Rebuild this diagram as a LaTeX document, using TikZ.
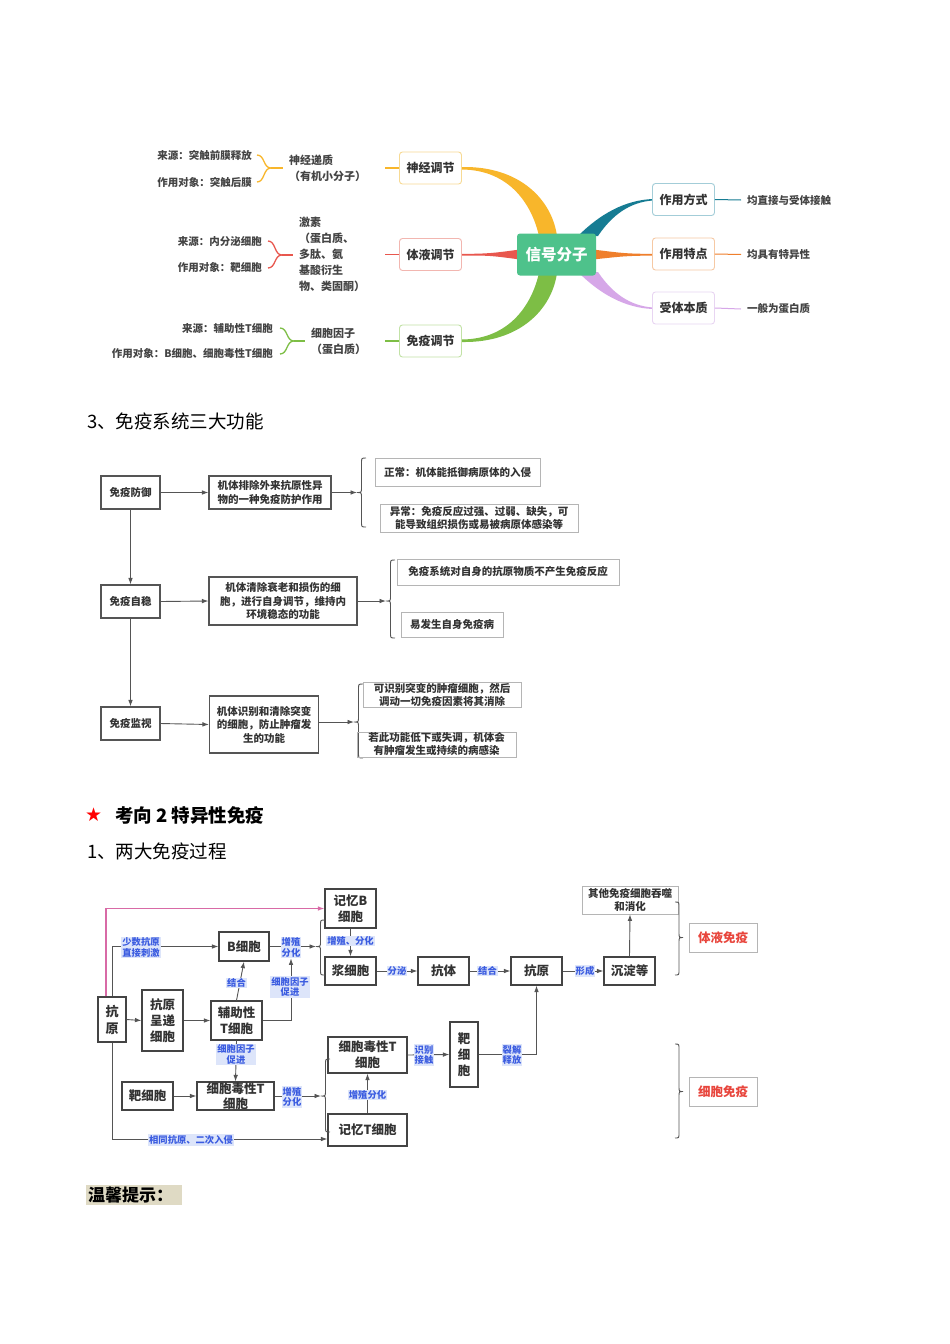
\documentclass[tikz,border=0pt]{standalone}
\usepackage{fontspec}
\setmainfont{Noto Sans CJK SC}
\newfontfamily\djv{DejaVu Sans}
\usetikzlibrary{arrows.meta}
\definecolor{txt}{HTML}{333333}
\definecolor{txtg}{HTML}{444444}
\definecolor{cgreen}{HTML}{4EC28B}
\definecolor{cyel}{HTML}{F8B62B}
\definecolor{cred}{HTML}{E8574E}
\definecolor{cgrn}{HTML}{7DBE45}
\definecolor{cteal}{HTML}{167C93}
\definecolor{corg}{HTML}{EF7F2C}
\definecolor{cpur}{HTML}{D6A7E8}
\definecolor{byel}{HTML}{F7DA94}
\definecolor{bred}{HTML}{F2B6B0}
\definecolor{bgrn}{HTML}{C2E2A6}
\definecolor{bteal}{HTML}{A3CDD8}
\definecolor{borg}{HTML}{F6C9A4}
\definecolor{bpur}{HTML}{E8D5F2}
\definecolor{bda}{HTML}{555555}
\definecolor{bdb}{HTML}{B5B5B5}
\definecolor{bdc}{HTML}{444444}
\definecolor{arc}{HTML}{555555}
\definecolor{lblbg}{HTML}{DDE5FA}
\definecolor{lbltx}{HTML}{3A5BE0}
\definecolor{cpink}{HTML}{D86AA6}
\definecolor{redtx}{HTML}{E8453C}
\definecolor{tipbg}{HTML}{DFDAC4}
\newcommand{\mybrl}[4]{%
\draw[brc] ({#1+9},#2) .. controls ({#1+4.5},#2) .. ({#1+4.5},{#2+5}) -- ({#1+4.5},{#3-5}) .. controls ({#1+4.5},#3) .. (#1,#3) .. controls ({#1+4.5},#3) .. ({#1+4.5},{#3+5}) -- ({#1+4.5},{#4-5}) .. controls ({#1+4.5},#4) .. ({#1+9},#4);}
\newcommand{\mybrr}[4]{%
\draw[brc] ({#1-8},#2) .. controls ({#1-4},#2) .. ({#1-4},{#2+5}) -- ({#1-4},{#3-5}) .. controls ({#1-4},#3) .. (#1,#3) .. controls ({#1-4},#3) .. ({#1-4},{#3+5}) -- ({#1-4},{#4-5}) .. controls ({#1-4},#4) .. ({#1-8},#4);}
\newcommand{\mmbr}[6]{% left x, top y, tip x, mid y, bottom y, colour
\draw[#6, line width=1.3pt] (#1,#2) .. controls ({#1+8},#2) and ({#1+6},#4) .. (#3,#4) .. controls ({#1+6},#4) and ({#1+8},#5) .. (#1,#5);}
\begin{document}
\begin{tikzpicture}[x=1pt,y=-1pt,
 mm/.style={draw, rounded corners=3pt, line width=0.9pt, fill=white, minimum width=62, minimum height=32, inner sep=0, font=\fontsize{12}{14}\selectfont\bfseries, text=txt},
 lf/.style={inner sep=0, font=\fontsize{10.5}{15}\selectfont\bfseries, text=txtg},
 mtx/.style={inner sep=0, font=\fontsize{11}{16}\selectfont\bfseries, text=txtg, align=left},
 bxa/.style={draw=bda, line width=1.1pt, inner sep=0, align=center, font=\fontsize{10.5}{13.5}\selectfont\bfseries, text=txt},
 bxb/.style={draw=bdb, line width=0.8pt, inner sep=0, align=center, font=\fontsize{10.5}{13}\selectfont\bfseries, text=txt},
 bxc/.style={draw=bdc, line width=1.2pt, inner sep=0, align=center, font=\fontsize{12.5}{16}\selectfont\bfseries, text=txt},
 lbl/.style={fill=lblbg, text=lbltx, inner sep=1pt, align=center, font=\fontsize{9.3}{10.5}\selectfont\bfseries},
 arr/.style={draw=arc, line width=0.9pt, -{Latex[length=6.5pt,width=4.6pt]}},
 brc/.style={draw=arc, line width=0.9pt},
 hd/.style={anchor=west, inner sep=0, font=\fontsize{18.5}{20}\selectfont, text=black}
]
\useasboundingbox (0,0) rectangle (950,1344);
\fill[white] (0,0) rectangle (950,1344);

%%%%%%%% Mind map %%%%%%%%
\fill[cyel] (462,167) .. controls (520,166) and (552,200) .. (557,236) -- (539,236) .. controls (532,205) and (510,170) .. (462,169.5) -- cycle;
\fill[cgrn] (462,342) .. controls (520,343) and (552,309) .. (557,273) -- (539,273) .. controls (532,304) and (510,339) .. (462,339.5) -- cycle;
\fill[cred] (461,254) .. controls (490,253.5) .. (520,249.5) -- (520,259.5) .. controls (490,255.5) .. (461,255.5) -- cycle;
\fill[cteal] (578,236) .. controls (600,214) and (625,200) .. (653,199) -- (653,200.5) .. controls (630,202) and (612,215) .. (598,236) -- cycle;
\fill[corg] (593,249.5) .. controls (625,253.5) .. (653,254) -- (653,255.5) .. controls (625,256) .. (593,259.5) -- cycle;
\fill[cpur] (578,272) .. controls (600,294) and (625,308) .. (653,309) -- (653,307.5) .. controls (630,306) and (612,293) .. (598,272) -- cycle;

\node[fill=cgreen, rounded corners=3pt, minimum width=79, minimum height=42, inner sep=0, text=white, font=\fontsize{15.5}{17}\selectfont\bfseries] (sig) at (556.5,254.5) {信号分子};

\node[mm, draw=byel] (sj) at (430.5,168) {神经调节};
\node[mm, draw=bred] (ty) at (430.5,254.5) {体液调节};
\node[mm, draw=bgrn] (my) at (430.5,341) {免疫调节};
\node[mm, draw=bteal] (fs) at (683.5,199.5) {作用方式};
\node[mm, draw=borg] (td) at (683.5,254) {作用特点};
\node[mm, draw=bpur] (bz) at (683.5,308) {受体本质};

\node[lf, anchor=west] (fsl) at (747,200) {均直接与受体接触};
\node[lf, anchor=west] (tdl) at (747,254.5) {均具有特异性};
\node[lf, anchor=west] (bzl) at (747,309) {一般为蛋白质};
\draw[cteal, line width=1pt] (fs.east) -- ([xshift=-6pt]fsl.west);
\draw[corg, line width=1pt] (td.east) -- ([xshift=-6pt]tdl.west);
\draw[cpur, line width=1pt] (bz.east) -- ([xshift=-6pt]bzl.west);

\node[mtx, anchor=west] (sjt) at (289,168) {神经递质\\（有机小分子）};
\node[mtx, anchor=west] (tyt) at (299,254.5) {激素\\（蛋白质、\\多肽、氨\\基酸衍生\\物、类固酮）};
\node[mtx, anchor=west] (myt) at (311,341) {细胞因子\\（蛋白质）};
\draw[cyel, line width=1.2pt] (sj.west) -- ([xshift=-14pt]sj.west);
\draw[cred, line width=1.2pt] (ty.west) -- ([xshift=-14pt]ty.west);
\draw[cgrn, line width=1.2pt] (my.west) -- ([xshift=-14pt]my.west);

\mmbr{257}{155}{271}{168}{182}{cyel}
\draw[cyel, line width=1.3pt] (271,168) -- (283,168);
\mmbr{268}{241}{282}{255}{268}{cred}
\draw[cred, line width=1.3pt] (282,255) -- (293,255);
\mmbr{280}{328}{294}{341}{354}{cgrn}
\draw[cgrn, line width=1.3pt] (294,341) -- (305,341);

\node[lf, anchor=east] (a1) at (252,155) {来源：突触前膜释放};
\node[lf, anchor=east] (a2) at (252,182) {作用对象：突触后膜};
\node[lf, anchor=east] (a3) at (262,241.5) {来源：内分泌细胞};
\node[lf, anchor=east] (a4) at (262,268) {作用对象：靶细胞};
\node[lf, anchor=east] (a5) at (273,328) {来源：辅助性T细胞};
\node[lf, anchor=east] (a6) at (273,354) {作用对象：B细胞、细胞毒性T细胞};

%%%%%%%% Heading %%%%%%%%
\node[hd] (h1) at (87,421) {3、免疫系统三大功能};

%%%%%%%% Three functions %%%%%%%%
\node[bxa, minimum width=59, minimum height=33] (fy) at (130.5,492.5) {免疫防御};
\node[bxa, minimum width=59, minimum height=33] (zw) at (130.5,601.5) {免疫自稳};
\node[bxa, minimum width=59, minimum height=33] (jk) at (130.5,723.5) {免疫监视};
\node[bxa, minimum width=122, minimum height=33] (d1) at (270,492.5) {机体排除外来抗原性异\\物的一种免疫防护作用};
\node[bxa, minimum width=148, minimum height=48] (d2) at (283,601) {机体清除衰老和损伤的细\\胞，进行自身调节，维持内\\环境稳态的功能};
\node[bxa, minimum width=109, minimum height=57] (d3) at (264,724.5) {机体识别和清除突变\\的细胞，防止肿瘤发\\生的功能};
\draw[arr] (fy.east) -- (d1.west);
\draw[arr] (zw.east) -- (d2.west);
\draw[arr] (jk.east) -- (d3.west);
\draw[arr] (fy.south) -- (zw.north);
\draw[arr] (zw.south) -- (jk.north);

\coordinate (s1) at (357,492.5);
\coordinate (s2) at (386,601);
\coordinate (s3) at (354,722);
\mybrl{357}{458}{492.5}{527}
\mybrl{386}{560}{601}{638}
\mybrl{354}{684}{722}{758}
\draw[arr] (d1.east) -- (s1);
\draw[arr] (d2.east) -- (s2);
\draw[arr] (d3.east |- s3) -- (s3);

\node[bxb, minimum width=165, minimum height=28] (r1) at (457.5,472) {正常：机体能抵御病原体的入侵};
\node[bxb, minimum width=198, minimum height=28] (r2) at (479,518) {异常：免疫反应过强、过弱、缺失，可\\能导致组织损伤或易被病原体感染等};
\node[bxb, minimum width=222, minimum height=26] (r3) at (508,572) {免疫系统对自身的抗原物质不产生免疫反应};
\node[bxb, minimum width=102, minimum height=25] (r4) at (452,624.5) {易发生自身免疫病};
\node[bxb, minimum width=158, minimum height=25] (r5) at (442,695) {可识别突变的肿瘤细胞，然后\\调动一切免疫因素将其消除};
\node[bxb, minimum width=159, minimum height=25] (r6) at (436.5,744.5) {若此功能低下或失调，机体会\\有肿瘤发生或持续的病感染};

%%%%%%%% Headings %%%%%%%%
\node[anchor=west, inner sep=0, text=red, font=\djv\fontsize{19}{20}\selectfont] (star) at (85,815) {★};
\node[hd, font=\fontsize{18.5}{20}\selectfont\bfseries] (h2) at (115,815) {考向 2 特异性免疫};
\node[hd] (h3) at (87,851) {1、两大免疫过程};

%%%%%%%% Immune process %%%%%%%%
\node[bxc, minimum width=28, minimum height=45, font=\fontsize{13}{17}\selectfont\bfseries] (ag) at (112,1019.5) {抗\\原};
\node[bxc, minimum width=41, minimum height=61] (apc) at (162.5,1020.5) {抗原\\呈递\\细胞};
\node[bxc, minimum width=50, minimum height=29] (bc) at (244,946.5) {B细胞};
\node[bxc, minimum width=51, minimum height=39] (th) at (236.5,1020.5) {辅助性\\T细胞};
\node[bxc, minimum width=51, minimum height=28] (tgl) at (147.5,1096) {靶细胞};
\node[bxc, minimum width=77, minimum height=28, font=\fontsize{12.5}{14.5}\selectfont\bfseries] (ctl) at (235.5,1096) {细胞毒性T\\细胞};
\node[bxc, minimum width=51, minimum height=39] (mb) at (350.5,908.5) {记忆B\\细胞};
\node[bxc, minimum width=51, minimum height=28] (pc) at (350.5,971) {浆细胞};
\node[bxc, minimum width=51, minimum height=28] (ab) at (443.5,971) {抗体};
\node[bxc, minimum width=51, minimum height=28] (agr) at (536.5,971) {抗原};
\node[bxc, minimum width=79, minimum height=36] (ctr) at (367.5,1055) {细胞毒性T\\细胞};
\node[bxc, minimum width=79, minimum height=32] (mt) at (367.5,1130) {记忆T细胞};
\node[bxc, minimum width=28, minimum height=65] (tgr) at (464,1054.5) {靶\\细\\胞};
\node[bxc, minimum width=51, minimum height=28] (cd) at (629.5,971) {沉淀等};
\node[bxb, minimum width=96, minimum height=28, font=\fontsize{10.5}{13}\selectfont\bfseries] (oth) at (630,900) {其他免疫细胞吞噬\\和消化};
\node[bxb, minimum width=68, minimum height=29, text=redtx, font=\fontsize{12.5}{15}\selectfont\bfseries] (hum) at (723,937.5) {体液免疫};
\node[bxb, minimum width=68, minimum height=29, text=redtx, font=\fontsize{12.5}{15}\selectfont\bfseries] (cel) at (723,1091.5) {细胞免疫};

\coordinate (b1) at (316,946.5);
\coordinate (b2) at (321,1096);
\mybrl{316}{920}{946.5}{975}
\mybrl{321}{1059}{1096}{1132}
\mybrr{683}{902}{937.5}{975}
\mybrr{683}{1044}{1091.5}{1138}

\draw[cpink, line width=1.1pt, -{Latex[length=6.5pt,width=4.6pt]}] ([xshift=-6pt]ag.north) |- (mb.west);
\draw[arr] (ag.north) |- (bc.west);
\node[lbl] (l1) at (141,947.5) {少数抗原\\直接刺激};
\draw[arr] (ag.east) -- (apc.west);
\draw[arr] (apc.east) -- (th.west);
\draw[arr] (th.north) -- (bc.south);
\node[lbl] (l2) at (236.5,983) {结合};
\draw[arr] (bc.east) -- (b1);
\node[lbl] (l3) at (291,947.5) {增殖\\分化};
\draw[arr] (th.east) -| (l3.south);
\node[lbl] (l4) at (290,987) {细胞因子\\促进};
\draw[arr] (th.south) -- (ctl.north);
\node[lbl] (l5) at (236,1054.5) {细胞因子\\促进};
\draw[arr] (tgl.east) -- (ctl.west);
\draw[arr] (ctl.east) -- (b2);
\node[lbl] (l6) at (292,1097) {增殖\\分化};
\draw[arr] (ag.south) |- ([yshift=-9pt]mt.west);
\node[lbl] (l7) at (191,1140) {相同抗原、二次入侵};
\draw[arr] (mb.south) -- (pc.north);
\node[lbl] (l8) at (350.5,941) {增殖、分化};
\draw[arr] (pc.east) -- (ab.west);
\node[lbl] (l9) at (397,971) {分泌};
\draw[arr] (ab.east) -- (agr.west);
\node[lbl] (l10) at (487.5,971) {结合};
\draw[arr] (agr.east) -- (cd.west);
\node[lbl] (l11) at (585,971) {形成};
\draw[arr] (cd.north) -- (oth.south);
\draw[arr] (mt.north) -- (ctr.south);
\node[lbl] (l12) at (367.5,1095) {增殖分化};
\draw[arr] (ctr.east) -- (tgr.west);
\node[lbl] (l13) at (424,1055) {识别\\接触};
\draw[arr] (tgr.east) -| (agr.south);
\node[lbl] (l14) at (512,1055) {裂解\\释放};

%%%%%%%% Tip %%%%%%%%
\fill[tipbg] (86,1185) rectangle (182,1205);
\node[anchor=west, inner sep=0, font=\fontsize{17}{19}\selectfont\bfseries, text=black] (tip) at (88,1195) {温馨提示：};
\end{tikzpicture}
\end{document}
